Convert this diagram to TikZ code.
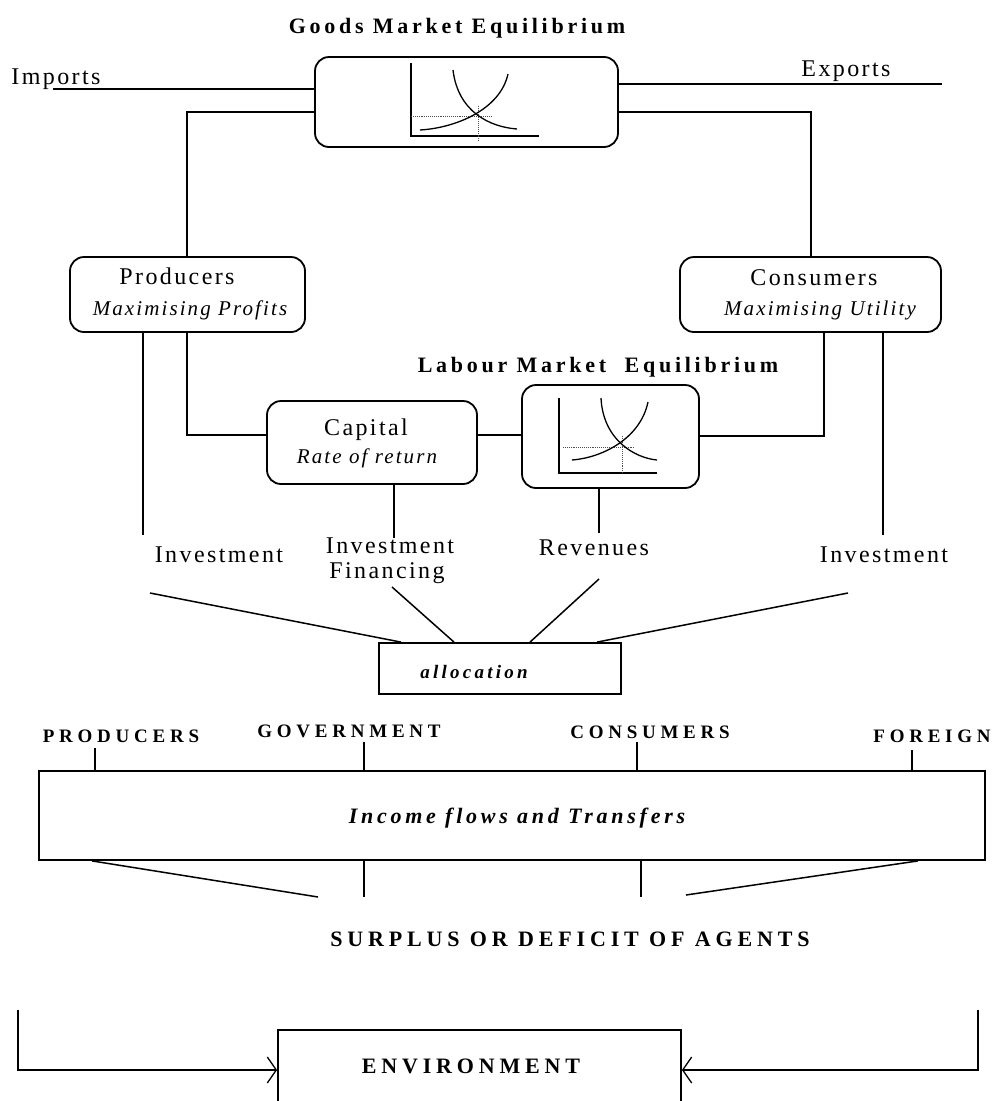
\documentclass[tikz,border=0pt]{standalone}
\usepackage{fontspec}
\setmainfont{Liberation Serif}
\newfontfamily\fnorm{Liberation Serif}[LetterSpace=10]
\newfontfamily\ftitle{Liberation Serif}[LetterSpace=17]
\newfontfamily\fcaps{Liberation Serif}[LetterSpace=25]
\newfontfamily\fcapb{Liberation Serif}[LetterSpace=22]
\usetikzlibrary{arrows.meta}
\tikzset{
  rbox/.style={draw, line width=1.8pt, rounded corners=14pt, inner sep=0pt},
  sbox/.style={draw, line width=1.8pt, inner sep=0pt},
  lab/.style={inner sep=0pt, anchor=base, font=\fnorm\fontsize{24}{28}\selectfont},
  sub/.style={inner sep=0pt, anchor=base, font=\fnorm\itshape\fontsize{21}{25}\selectfont},
  ttl/.style={inner sep=0pt, anchor=base, font=\ftitle\bfseries\fontsize{22}{26}\selectfont},
  ttli/.style={inner sep=0pt, anchor=base, font=\ftitle\bfseries\itshape\fontsize{22}{26}\selectfont},
  alloct/.style={inner sep=0pt, anchor=base, font=\ftitle\bfseries\itshape\fontsize{19}{23}\selectfont},
  capl/.style={inner sep=0pt, anchor=base, font=\fcaps\bfseries\fontsize{19}{23}\selectfont},
  capb/.style={inner sep=0pt, anchor=base, font=\fcapb\bfseries\fontsize{22}{26}\selectfont},
  ln/.style={line width=1.5pt},
  axis/.style={line width=1.8pt},
  curve/.style={line width=1.3pt},
  guide/.style={line width=0.9pt, densely dotted, black!70},
  envarrow/.style={line width=1.5pt, -{Straight Barb[length=9pt,width=26pt,line width=1.3pt]}}
}
\begin{document}
\begin{tikzpicture}[x=1pt, y=-1pt]
\useasboundingbox (0,0) rectangle (993,1101);

% ---------- titles ----------
\node[ttl] (goodsT) at (457,33) {Goods Market Equilibrium};
\node[ttl] (labT) at (598,372) {Labour Market\ \ Equilibrium};

% ---------- boxes ----------
\node[rbox, minimum width=303pt, minimum height=90pt] (goods) at (466.5,102) {};
\node[rbox, minimum width=235pt, minimum height=75pt] (prod) at (187.5,294.5) {};
\node[rbox, minimum width=261pt, minimum height=75pt] (cons) at (810.5,294.5) {};
\node[rbox, minimum width=210pt, minimum height=83pt] (cap) at (372,442.5) {};
\node[rbox, minimum width=177pt, minimum height=103pt] (lab) at (610.5,436.5) {};
\node[sbox, minimum width=242pt, minimum height=51pt] (alloc) at (500,668.5) {};
\node[sbox, minimum width=946pt, minimum height=89pt] (inc) at (512,815.5) {};
\node[sbox, minimum width=403pt, minimum height=100pt] (env) at (479.5,1080) {};

% ---------- box texts ----------
\node[lab] (prodA) at (177,284) {Producers};
\node[sub] (prodB) at (190,315) {Maximising Profits};
\node[lab] (consA) at (814,285) {Consumers};
\node[sub] (consB) at (820,315) {Maximising Utility};
\node[lab] (capA) at (366,435) {Capital};
\node[sub] (capB) at (367,463) {Rate of return};
\node[alloct] (allocT) at (474,678) {allocation};
\node[ttli] (incT) at (517,823) {Income flows and Transfers};
\node[capb] (envT) at (471,1073) {ENVIRONMENT};

% ---------- free labels ----------
\node[lab] (impT) at (56,84) {Imports};
\node[lab] (expT) at (846,76) {Exports};
\node[lab] (invLT) at (219,562) {Investment};
\node[lab] (invFA) at (390,553) {Investment};
\node[lab] (invFB) at (387,578) {Financing};
\node[lab] (revT) at (594,555) {Revenues};
\node[lab] (invRT) at (884,562) {Investment};
\node[capl] (agP) at (121,742) {PRODUCERS};
\node[capl] (agG) at (349,737) {GOVERNMENT};
\node[capl] (agC) at (650,738) {CONSUMERS};
\node[capl] (agF) at (932,742) {FOREIGN};
\node[capb] (surT) at (570,946) {SURPLUS OR DEFICIT OF AGENTS};

% ---------- goods market chart ----------
\draw[axis] (411,63) -- (411,136) -- (539,136);
\draw[guide] (411,116) -- (492,116);
\draw[guide] (478,106) -- (478,142);
\draw[curve] (453,70) .. controls (458,112) and (490,127) .. (517,129);
\draw[curve] (420,130) .. controls (455,128) and (500,110) .. (508,74);

% ---------- labour market chart ----------
\draw[axis] (559,398) -- (559,473) -- (657,473);
\draw[guide] (563,447) -- (634,447);
\draw[guide] (622,436) -- (622,473);
\draw[curve] (601,398) .. controls (603,440) and (635,458) .. (657,460);
\draw[curve] (572,460) .. controls (600,458) and (640,440) .. (648,402);

% ---------- upper connectors ----------
\coordinate (impEnd) at (53,89);
\draw[ln] (impEnd) -- (impEnd -| goods.west);
\coordinate (expEnd) at (942,84);
\draw[ln] (expEnd -| goods.east) -- (expEnd);
\coordinate (pA) at (187,112);
\draw[ln] (pA -| goods.west) -- (pA) -- (pA |- prod.north);
\coordinate (cA) at (811,112);
\draw[ln] (cA -| goods.east) -- (cA) -- (cA |- cons.north);
\coordinate (invLEnd) at (143,535);
\draw[ln] (invLEnd |- prod.south) -- (invLEnd);
\coordinate (pB) at (187,435);
\draw[ln] (pB |- prod.south) -- (pB) -- (pB -| cap.west);
\draw[ln] (pB -| cap.east) -- (pB -| lab.west);
\coordinate (capEnd) at (394,538);
\draw[ln] (capEnd |- cap.south) -- (capEnd);
\coordinate (revEnd) at (599,533);
\draw[ln] (revEnd |- lab.south) -- (revEnd);
\coordinate (cB) at (824,436);
\draw[ln] (cB -| lab.east) -- (cB) -- (cB |- cons.south);
\coordinate (invREnd) at (883,535);
\draw[ln] (invREnd |- cons.south) -- (invREnd);

% ---------- to allocation ----------
\coordinate (dL) at (150,593);   \coordinate (aL) at (401,0);
\coordinate (dF) at (392,587);   \coordinate (aF) at (454,0);
\coordinate (dRv) at (599,579);  \coordinate (aRv) at (530,0);
\coordinate (dR) at (848,593);   \coordinate (aR) at (597,0);
\draw[ln] (dL) -- (aL |- alloc.north);
\draw[ln] (dF) -- (aF |- alloc.north);
\draw[ln] (dRv) -- (aRv |- alloc.north);
\draw[ln] (dR) -- (aR |- alloc.north);

% ---------- agents ticks ----------
\coordinate (tP) at (95,748);
\coordinate (tG) at (364,742);
\coordinate (tC) at (637,742);
\coordinate (tF) at (912,750);
\foreach \t in {tP,tG,tC,tF} \draw[ln] (\t) -- (\t |- inc.north);

% ---------- below income ----------
\coordinate (bL0) at (92,0);   \coordinate (bL) at (318,897);
\coordinate (bG) at (364,897);
\coordinate (bC) at (641,897);
\coordinate (bR0) at (918,0);  \coordinate (bR) at (686,895);
\draw[ln] (bL0 |- inc.south) -- (bL);
\draw[ln] (bG |- inc.south) -- (bG);
\draw[ln] (bC |- inc.south) -- (bC);
\draw[ln] (bR0 |- inc.south) -- (bR);

% ---------- environment arrows ----------
\coordinate (eL) at (18,1010);  \coordinate (eLc) at (18,1070);
\coordinate (eR) at (978,1010); \coordinate (eRc) at (978,1070);
\draw[envarrow] (eL) -- (eLc) -- (eLc -| env.west);
\draw[envarrow] (eR) -- (eRc) -- (eRc -| env.east);
\end{tikzpicture}
\end{document}
